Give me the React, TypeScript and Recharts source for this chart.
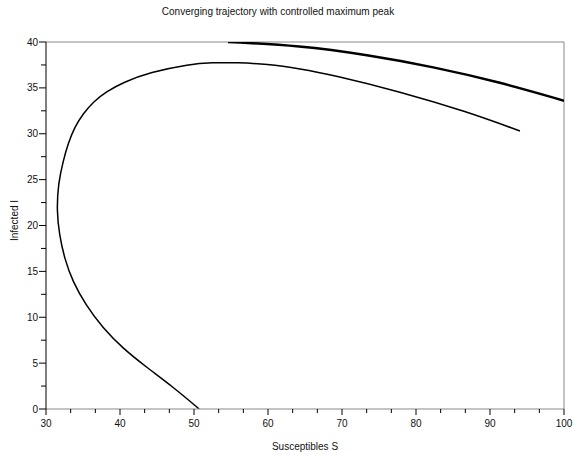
import { Label, Line, LineChart, ReferenceLine, XAxis, YAxis } from "recharts";

// lower trajectory (S, I), from the bottom end up round the loop
const trajS = [50.7, 47.1, 43.5, 40.4, 37.7, 35.4, 33.6, 32.5, 31.8, 31.45, 31.65, 32.34, 33.0, 33.9, 35.04, 36.4, 38.2, 40.4, 44.05, 49.4, 52.5, 55.7, 59.9, 64.3, 68.8, 77.8, 86.9, 94.05];
const trajI = [0, 2.45, 4.6, 6.6, 8.8, 11.3, 13.9, 16.4, 19.0, 21.6, 24.6, 27.1, 28.96, 30.8, 32.2, 33.5, 34.6, 35.6, 36.7, 37.6, 37.75, 37.75, 37.6, 37.1, 36.4, 34.6, 32.4, 30.3];

// upper branch clipped at the top of the frame
const upperS = [54.6, 64.3, 73.4, 82.3, 91.4, 100];
const upperI = [40, 39.6, 38.6, 37.3, 35.6, 33.6];

const xMajor = [30, 40, 50, 60, 70, 80, 90, 100];
const xTicks = [30, 33.33, 36.67, 40, 43.33, 46.67, 50, 53.33, 56.67, 60, 63.33, 66.67, 70, 73.33, 76.67, 80, 83.33, 86.67, 90, 93.33, 96.67, 100];
const yMajor = [0, 5, 10, 15, 20, 25, 30, 35, 40];
const yTicks = [0, 2.5, 5, 7.5, 10, 12.5, 15, 17.5, 20, 22.5, 25, 27.5, 30, 32.5, 35, 37.5, 40];

const trajectory = trajS.map((s, i) => ({ S: s, I: trajI[i] }));
const upper = upperS.map((s, i) => ({ S: s, I: upperI[i] }));

const font = "'Liberation Sans', Arial, sans-serif";

function XTick(props: any) {
  const { x, y, payload } = props;
  const major = xMajor.includes(payload.value);
  return (
    <g>
      <line x1={x} x2={x} y1={y} y2={y + (major ? 6 : 4)} stroke="#000" />
      {major && (
        <text x={x} y={y + 18} textAnchor="middle" fontSize={10} fontFamily={font} fill="#111">
          {payload.value}
        </text>
      )}
    </g>
  );
}

function YTick(props: any) {
  const { x, y, payload } = props;
  const major = yMajor.includes(payload.value);
  return (
    <g>
      <line x1={x} x2={x - (major ? 7 : 5)} y1={y} y2={y} stroke="#000" />
      {major && (
        <text x={x - 8} y={y + 3.5} textAnchor="end" fontSize={10} fontFamily={font} fill="#111">
          {payload.value}
        </text>
      )}
    </g>
  );
}

export default function App() {
  return (
    <div style={{ position: "absolute", left: 0, top: 0, width: 573, height: 455, background: "#fff" }}>
      <div
        style={{
          position: "absolute",
          left: 0,
          width: 556,
          top: 6,
          textAlign: "center",
          fontSize: 10,
          fontFamily: font,
          color: "#111",
        }}
      >
        Converging trajectory with controlled maximum peak
      </div>
      <LineChart width={573} height={455} margin={{ top: 42, right: 9, bottom: 0, left: 0 }}>
        <XAxis
          type="number"
          dataKey="S"
          domain={[30, 100]}
          ticks={xTicks}
          interval={0}
          allowDataOverflow
          height={46}
          tickSize={0}
          tickMargin={0}
          tickLine={false}
          tick={<XTick />}
          axisLine={{ stroke: "#888" }}
        >
          <Label value="Susceptibles S" position="insideBottom" offset={5} fontSize={10} fontFamily={font} fill="#111" />
        </XAxis>
        <YAxis
          type="number"
          dataKey="I"
          domain={[0, 40]}
          ticks={yTicks}
          interval={0}
          allowDataOverflow
          width={46}
          tickSize={0}
          tickMargin={0}
          tickLine={false}
          tick={<YTick />}
          axisLine={{ stroke: "#000" }}
        >
          <Label
            value="Infected I"
            angle={-90}
            position="insideLeft"
            offset={14}
            dy={-5}
            fontSize={10}
            fontFamily={font}
            fill="#111"
            style={{ textAnchor: "middle" }}
          />
        </YAxis>
        <ReferenceLine y={40} stroke="#888" />
        <ReferenceLine x={100} stroke="#888" />
        <Line
          data={trajectory}
          dataKey="I"
          type="basis"
          stroke="#000"
          strokeWidth={1.5}
          dot={false}
          isAnimationActive={false}
        />
        <Line
          data={upper}
          dataKey="I"
          type="basis"
          stroke="#000"
          strokeWidth={2.5}
          dot={false}
          isAnimationActive={false}
        />
      </LineChart>
    </div>
  );
}
